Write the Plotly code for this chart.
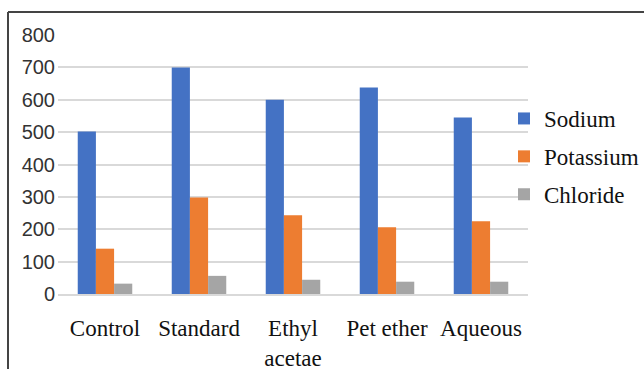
import plotly.graph_objects as go

# Electrolyte levels per treatment group
categories = ["Control", "Standard", "Ethyl<br>acetae", "Pet ether", "Aqueous"]
sodium = [502, 700, 600, 638, 545]
potassium = [140, 298, 243, 206, 225]
chloride = [32, 56, 44, 38, 38]
y_ticks = [0, 100, 200, 300, 400, 500, 600, 700, 800]

W, H = 644, 369
L, R, T, B = 58, 116, 35, 75
PW, PH = W - L - R, H - T - B

series = [
    ("Sodium", sodium, "#4472C4"),
    ("Potassium", potassium, "#ED7D31"),
    ("Chloride", chloride, "#A5A5A5"),
]

fig = go.Figure()
for name, vals, color in series:
    fig.add_trace(go.Bar(
        x=categories, y=vals, name=name, legendgroup=name,
        marker=dict(color=color, line=dict(width=0)),
    ))

serif = "Liberation Serif"
sans = "Liberation Sans"


def px_x(px):
    return (px - L) / PW


def px_y(py):
    return (H - B - py) / PH


fig.update_layout(
    width=W, height=H,
    margin=dict(l=L, r=R, t=T, b=B, pad=0, autoexpand=False),
    paper_bgcolor="white", plot_bgcolor="white",
    font=dict(family=serif),
    barmode="group", bargap=0.42, bargroupgap=0,
    showlegend=True,
    legend=dict(
        x=px_x(504), xanchor="left",
        y=px_y(97), yanchor="top",
        font=dict(family=serif, size=23, color="#111"),
        traceorder="grouped", tracegroupgap=5,
        bgcolor="rgba(0,0,0,0)", itemwidth=30,
    ),
    xaxis=dict(
        automargin=False,
        showgrid=False, showline=True, linecolor="#d9d9d9", linewidth=2,
        ticks="", tickfont=dict(family=serif, size=23, color="#111"),
        ticklabelstandoff=12,
    ),
    yaxis=dict(
        automargin=False,
        range=[0, 800], tickvals=y_ticks, showgrid=True,
        gridcolor="#d9d9d9", gridwidth=2, zeroline=False, showline=False,
        ticks="", tickfont=dict(family=sans, size=20, color="#333"),
        ticklabelstandoff=2,
    ),
)

# Outer chart frame: top and left edges, running off the page
frame = dict(color="#444", width=2)
fig.add_shape(type="line", xref="paper", yref="paper",
              x0=px_x(8), x1=px_x(W + 10), y0=px_y(12), y1=px_y(12),
              line=frame, layer="below")
fig.add_shape(type="line", xref="paper", yref="paper",
              x0=px_x(8), x1=px_x(8), y0=px_y(12), y1=px_y(H + 10),
              line=frame, layer="below")

fig.write_html("out.html")
